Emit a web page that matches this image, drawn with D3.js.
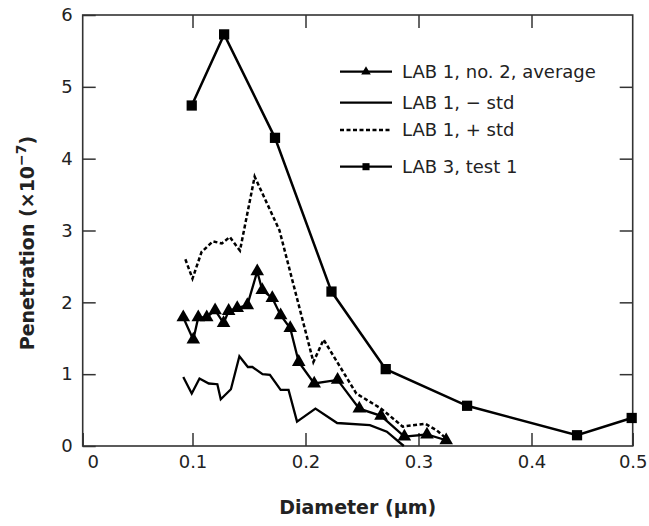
<!DOCTYPE html>
<html>
  <head>
    <meta charset="utf-8">
    <script src="https://d3js.org/d3.v7.min.js"></script>
    <style>
      body { margin: 0; background: #fff; }
      text { font-family: "DejaVu Sans", Verdana, sans-serif; fill: #222; }
      .axis text { font-size: 18px; }
      .axis line { stroke: #333; stroke-width: 1.5; }
      .title { font-weight: bold; font-size: 19px; }
    </style>
  </head>
  <body>
    <script type="text/javascript">

      // LAB 1, no. 2, average (triangles)
      var avgX = [0.0916, 0.1007, 0.1051, 0.1126, 0.120, 0.1275, 0.132, 0.1396, 0.1485, 0.1573,
                  0.1617, 0.1706, 0.178, 0.1865, 0.194, 0.2077, 0.2284, 0.2476, 0.2668, 0.2875,
                  0.3075, 0.3245];
      var avgY = [1.79, 1.48, 1.79, 1.79, 1.89, 1.71, 1.88, 1.92, 1.96, 2.43,
                  2.17, 2.06, 1.82, 1.64, 1.17, 0.87, 0.92, 0.52, 0.42, 0.13,
                  0.16, 0.08];

      // LAB 1, - std
      var loX = [0.0916, 0.0993, 0.1062, 0.1144, 0.122, 0.125, 0.134, 0.1415, 0.149, 0.153,
                 0.162, 0.1685, 0.178, 0.185, 0.1925, 0.2088, 0.228, 0.257, 0.272, 0.287];
      var loY = [0.96, 0.73, 0.94, 0.87, 0.86, 0.65, 0.79, 1.25, 1.10, 1.10,
                 1.00, 0.99, 0.78, 0.78, 0.34, 0.52, 0.32, 0.29, 0.20, 0.00];

      // LAB 1, + std
      var hiX = [0.0935, 0.100, 0.108, 0.118, 0.126, 0.133, 0.142, 0.155, 0.177, 0.207,
                 0.216, 0.245, 0.267, 0.286, 0.306, 0.316, 0.325];
      var hiY = [2.60, 2.33, 2.70, 2.85, 2.82, 2.91, 2.72, 3.75, 3.00, 1.17,
                 1.48, 0.73, 0.52, 0.27, 0.31, 0.22, 0.10];

      // LAB 3, test 1 (squares)
      var labX = [0.0993, 0.128, 0.173, 0.223, 0.271, 0.343, 0.445, 0.499];
      var labY = [4.74, 5.73, 4.29, 2.15, 1.07, 0.56, 0.15, 0.39];

      var xTicks = [0, 0.1, 0.2, 0.3, 0.4, 0.5];
      var yTicks = [0, 1, 2, 3, 4, 5, 6];
      var legendNames = ["LAB 1, no. 2, average", "LAB 1, \u2212 std", "LAB 1, + std", "LAB 3, test 1"];

      var W = 649, H = 526;
      var pL = 82.7, pR = 632.7, pT = 15, pB = 446;

      var svg = d3.select("body").append("svg")
          .attr("width", W)
          .attr("height", H);

      // the printed axis is not evenly spaced, so follow its ticks
      var x = d3.scaleLinear()
        .domain([0, 0.1, 0.4, 0.5])
        .range([pL, 192.5, 531.5, pR]);

      var y = d3.scaleLinear()
        .domain([0, 6])
        .range([pB, pT]);

      var fmt = function(d) { return d === 0 ? "0" : d3.format(".1f")(d); };

      var gx = svg.append("g")
        .attr("class", "axis")
        .attr("transform", "translate(0," + pB + ")")
        .call(d3.axisBottom(x).tickValues(xTicks).tickFormat(fmt).tickSizeInner(-13).tickSizeOuter(0).tickPadding(9));
      gx.select(".domain").remove();
      gx.selectAll(".tick text").filter(function(d) { return d === 0; }).attr("dx", 10);

      var gy = svg.append("g")
        .attr("class", "axis")
        .attr("transform", "translate(" + pL + ",0)")
        .call(d3.axisLeft(y).tickValues(yTicks).tickFormat(d3.format("d")).tickSizeInner(-13).tickSizeOuter(0).tickPadding(10));
      gy.select(".domain").remove();

      var gt = svg.append("g")
        .attr("class", "axis")
        .attr("transform", "translate(0," + pT + ")")
        .call(d3.axisTop(x).tickValues(xTicks.slice(1, -1)).tickFormat("").tickSizeInner(-13).tickSizeOuter(0));
      gt.select(".domain").remove();

      var gr = svg.append("g")
        .attr("class", "axis")
        .attr("transform", "translate(" + pR + ",0)")
        .call(d3.axisRight(y).tickValues(yTicks.slice(1, -1)).tickFormat("").tickSizeInner(-13).tickSizeOuter(0));
      gr.select(".domain").remove();

      svg.append("rect")
        .attr("x", pL).attr("y", pT)
        .attr("width", pR - pL).attr("height", pB - pT)
        .attr("fill", "none")
        .attr("stroke", "#333")
        .attr("stroke-width", 1.6);

      // titles
      svg.append("text")
        .attr("class", "title")
        .attr("x", (pL + pR) / 2)
        .attr("y", 514)
        .attr("text-anchor", "middle")
        .text("Diameter (\u00b5m)");

      var yt = svg.append("text")
        .attr("class", "title")
        .attr("text-anchor", "middle")
        .attr("transform", "translate(34,243) rotate(-90)");
      yt.append("tspan").text("Penetration (\u00d710");
      yt.append("tspan").attr("dy", -8).style("font-size", "14px").text("\u22127");
      yt.append("tspan").attr("dy", 8).text(")");

      // series
      var line = d3.line()
        .x(function(d) { return x(d[0]); })
        .y(function(d) { return y(d[1]); });

      var zip = function(a, b) { return a.map(function(v, i) { return [v, b[i]]; }); };

      var avg = zip(avgX, avgY), lo = zip(loX, loY), hi = zip(hiX, hiY), lab = zip(labX, labY);

      var plot = svg.append("g");

      plot.append("path").datum(lo)
        .attr("d", line).attr("fill", "none").attr("stroke", "#000").attr("stroke-width", 2.3);

      plot.append("path").datum(hi)
        .attr("d", line).attr("fill", "none").attr("stroke", "#000").attr("stroke-width", 2.5)
        .attr("stroke-dasharray", "4,2.5");

      plot.append("path").datum(avg)
        .attr("d", line).attr("fill", "none").attr("stroke", "#000").attr("stroke-width", 2.3);

      plot.append("path").datum(lab)
        .attr("d", line).attr("fill", "none").attr("stroke", "#000").attr("stroke-width", 2.5);

      var tri = d3.symbol().type(d3.symbolTriangle).size(80);
      var sq = d3.symbol().type(d3.symbolSquare).size(105);

      plot.selectAll(".tri")
        .data(avg)
        .enter().append("path")
        .attr("class", "tri")
        .attr("d", tri)
        .attr("transform", function(d) { return "translate(" + x(d[0]) + "," + y(d[1]) + ")"; })
        .attr("fill", "#000");

      plot.selectAll(".sq")
        .data(lab)
        .enter().append("path")
        .attr("class", "sq")
        .attr("d", sq)
        .attr("transform", function(d) { return "translate(" + x(d[0]) + "," + y(d[1]) + ")"; })
        .attr("fill", "#000");

      // legend
      var legendY = [71.7, 102.7, 130, 166.7];
      var legendDash = [null, null, "4,2.5", null];
      var legendSym = [d3.symbol().type(d3.symbolTriangle).size(40), null, null, d3.symbol().type(d3.symbolSquare).size(50)];

      var lg = svg.append("g");
      legendNames.forEach(function(name, i) {
        var row = lg.append("g").attr("transform", "translate(0," + legendY[i] + ")");
        row.append("line")
          .attr("x1", 340).attr("x2", 392)
          .attr("stroke", "#000").attr("stroke-width", 2.3)
          .attr("stroke-dasharray", legendDash[i]);
        if (legendSym[i]) {
          row.append("path").attr("d", legendSym[i]).attr("transform", "translate(366,0)").attr("fill", "#000");
        }
        row.append("text")
          .attr("x", 402)
          .attr("dy", "0.35em")
          .style("font-size", "18px")
          .text(name);
      });

    </script>
  </body>
</html>
